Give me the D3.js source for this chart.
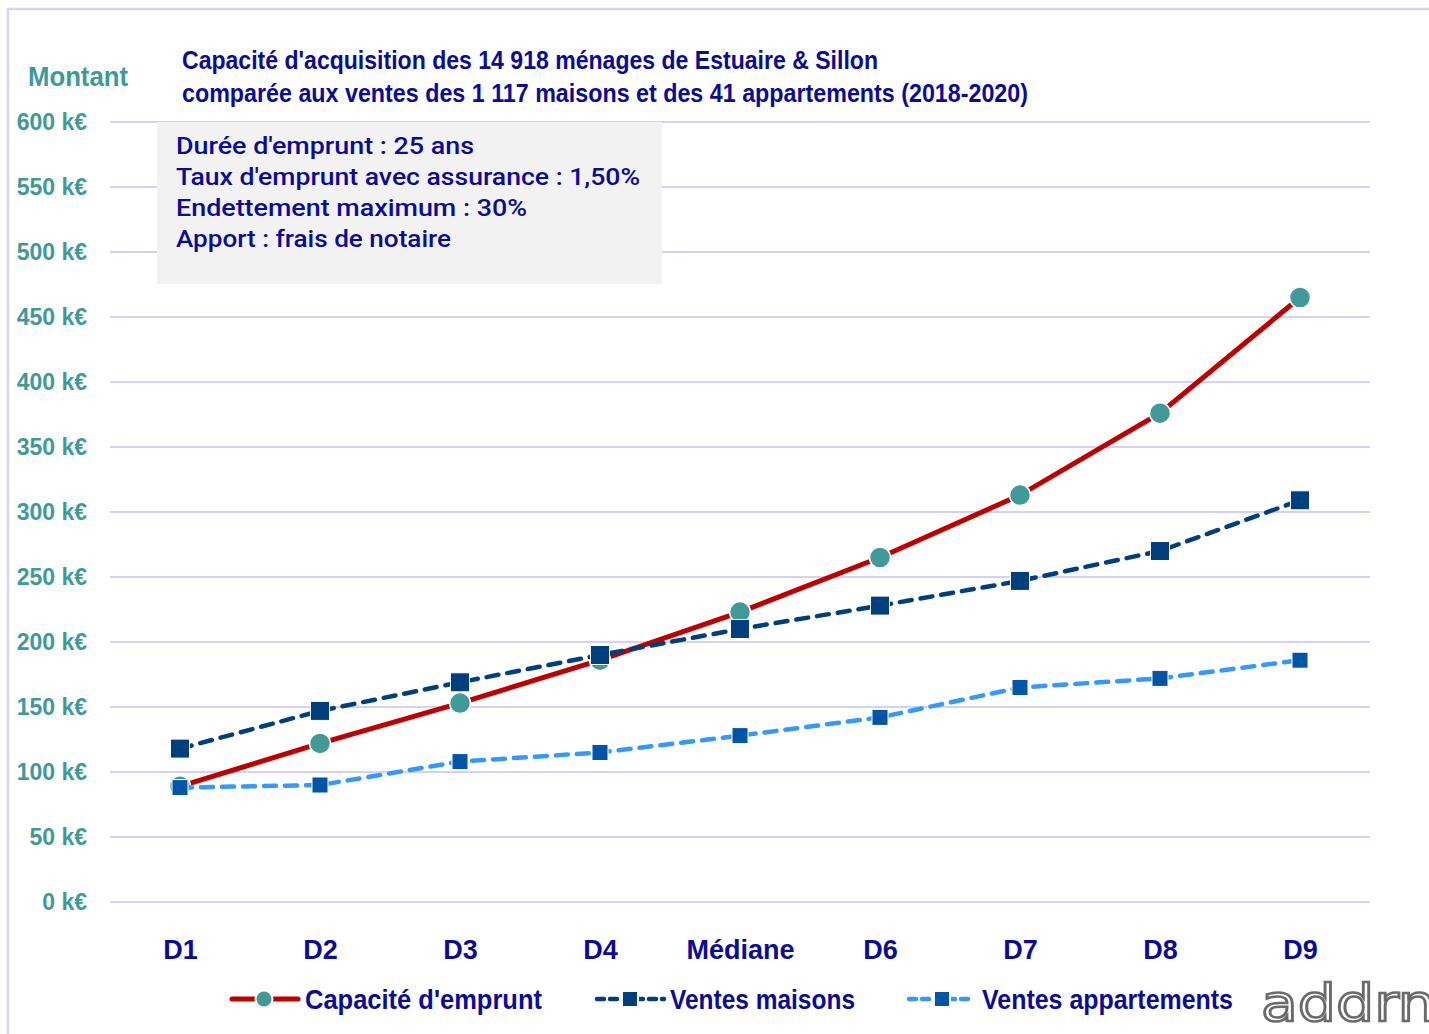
<!DOCTYPE html>
<html>
<head>
<meta charset="utf-8">
<title>Capacité d'acquisition</title>
<script src="https://d3js.org/d3.v7.min.js"></script>
<style>
  body { margin: 0; background: #fff; }
  svg { display: block; }
</style>
</head>
<body>
<div id="chart"></div>
<script>
// données (k€)
const categories = ["D1", "D2", "D3", "D4", "Médiane", "D6", "D7", "D8", "D9"];
const capacite = [89, 122, 153, 186, 223, 265, 313, 376, 465];
const maisons = [118, 147, 169, 190, 210, 228, 247, 270, 309];
const appartements = [88, 90, 108, 115, 128, 142, 165, 172, 186];
const yTicks = [0, 50, 100, 150, 200, 250, 300, 350, 400, 450, 500, 550, 600];
const titleLines = [
  "Capacité d'acquisition des 14 918 ménages de Estuaire & Sillon",
  "comparée aux ventes des 1 117 maisons et des 41 appartements (2018-2020)"
];
const infoLines = [
  "Durée d'emprunt : 25 ans",
  "Taux d'emprunt avec assurance : 1,50%",
  "Endettement maximum : 30%",
  "Apport : frais de notaire"
];
const seriesNames = ["Capacité d'emprunt", "Ventes maisons", "Ventes appartements"];

const W = 1429, H = 1034;
const narrow = "'Liberation Sans Narrow', 'Arial Narrow', 'Liberation Sans', sans-serif";
const darkBlue = "#0b0b99";
const teal = "#3e9a98";

const svg = d3.select("#chart").append("svg")
  .attr("width", W).attr("height", H);

// cadre extérieur
svg.append("path")
  .attr("d", `M8,${H} V9 H${W}`)
  .attr("fill", "none").attr("stroke", "#d4d4f8").attr("stroke-width", 2.5);

const x = d3.scalePoint().domain(categories).range([180, 1300]);
const y = d3.scaleLinear().domain([0, 600]).range([902, 122]);

// grille
svg.append("g").selectAll("line")
  .data(yTicks).enter().append("line")
  .attr("x1", 110).attr("x2", 1370)
  .attr("y1", d => y(d)).attr("y2", d => y(d))
  .attr("stroke", "#d2d2f8").attr("stroke-width", 2);

// axe Y
const yAxis = svg.append("g")
  .attr("transform", "translate(87,0)")
  .call(d3.axisLeft(y).tickValues(yTicks).tickSize(0).tickPadding(0).tickFormat(d => d + " k€"));
yAxis.select(".domain").remove();
yAxis.selectAll("text")
  .attr("fill", teal)
  .style("font-family", narrow).style("font-weight", "bold").style("font-size", "23px");

// axe X
const xAxis = svg.append("g")
  .attr("transform", "translate(0,940)")
  .call(d3.axisBottom(x).tickSize(0).tickPadding(0));
xAxis.select(".domain").remove();
xAxis.selectAll("text")
  .attr("fill", darkBlue).attr("dy", "0.71em")
  .style("font-family", narrow).style("font-weight", "bold").style("font-size", "27px");

// titre de l'axe
svg.append("text")
  .attr("x", 28).attr("y", 86)
  .attr("textLength", 100).attr("lengthAdjust", "spacingAndGlyphs")
  .attr("fill", teal)
  .style("font-family", narrow).style("font-weight", "bold").style("font-size", "28px")
  .text("Montant");

// titre
svg.append("g").selectAll("text")
  .data(titleLines).enter().append("text")
  .attr("x", 182).attr("y", (d, i) => 69 + i * 33)
  .attr("textLength", (d, i) => [696, 846][i]).attr("lengthAdjust", "spacingAndGlyphs")
  .attr("fill", darkBlue)
  .style("font-family", narrow).style("font-weight", "bold").style("font-size", "26px")
  .text(d => d);

// encadré des hypothèses
svg.append("rect")
  .attr("x", 157).attr("y", 122).attr("width", 505).attr("height", 162)
  .attr("fill", "#f2f2f2");
svg.append("g").selectAll("text")
  .data(infoLines).enter().append("text")
  .attr("x", 176).attr("y", (d, i) => 154 + i * 31)
  .attr("textLength", (d, i) => [298, 464, 351, 275][i]).attr("lengthAdjust", "spacingAndGlyphs")
  .attr("fill", darkBlue)
  .style("font-family", "Roboto, 'Liberation Sans', sans-serif").style("font-size", "24px")
  .style("font-weight", "500")
  .text(d => d);

// lignes
const line = d3.line().x((d, i) => x(categories[i])).y(d => y(d));

svg.append("path").datum(capacite)
  .attr("d", line).attr("fill", "none")
  .attr("stroke", "#c00000").attr("stroke-width", 5);
svg.selectAll(".cap").data(capacite).enter().append("circle")
  .attr("class", "cap")
  .attr("cx", (d, i) => x(categories[i])).attr("cy", d => y(d)).attr("r", 10.5)
  .attr("fill", "#409a98").attr("stroke", "#fff").attr("stroke-width", 1.5);

svg.append("path").datum(maisons)
  .attr("d", line).attr("fill", "none")
  .attr("stroke", "#003f7d").attr("stroke-width", 4.5)
  .attr("stroke-dasharray", "12,9").attr("stroke-linecap", "round");
svg.selectAll(".mai").data(maisons).enter().append("rect")
  .attr("class", "mai")
  .attr("x", (d, i) => x(categories[i]) - 9.5).attr("y", d => y(d) - 9.5)
  .attr("width", 19).attr("height", 19)
  .attr("fill", "#003f7d").attr("stroke", "#fff").attr("stroke-width", 1);

svg.append("path").datum(appartements)
  .attr("d", line).attr("fill", "none")
  .attr("stroke", "#3399ff").attr("stroke-width", 4.5)
  .attr("stroke-dasharray", "12,9").attr("stroke-linecap", "round");
svg.selectAll(".app").data(appartements).enter().append("rect")
  .attr("class", "app")
  .attr("x", (d, i) => x(categories[i]) - 8).attr("y", d => y(d) - 8)
  .attr("width", 16).attr("height", 16)
  .attr("fill", "#0055a5").attr("stroke", "#fff").attr("stroke-width", 1);

// légende
const legY = 999;
const leg = svg.append("g");
// capacité
leg.append("line").attr("x1", 232).attr("x2", 298).attr("y1", legY).attr("y2", legY)
  .attr("stroke", "#c00000").attr("stroke-width", 5).attr("stroke-linecap", "round");
leg.append("circle").attr("cx", 264).attr("cy", legY).attr("r", 8.5)
  .attr("fill", "#409a98").attr("stroke", "#fff").attr("stroke-width", 2);
// maisons
leg.append("line").attr("x1", 597).attr("x2", 664).attr("y1", legY).attr("y2", legY)
  .attr("stroke", "#003f7d").attr("stroke-width", 4.5)
  .attr("stroke-dasharray", "7,6").attr("stroke-linecap", "round");
leg.append("rect").attr("x", 622).attr("y", legY - 8).attr("width", 16).attr("height", 16)
  .attr("fill", "#003f7d").attr("stroke", "#fff").attr("stroke-width", 2);
// appartements
leg.append("line").attr("x1", 909).attr("x2", 973).attr("y1", legY).attr("y2", legY)
  .attr("stroke", "#3399ff").attr("stroke-width", 4.5)
  .attr("stroke-dasharray", "7,6").attr("stroke-linecap", "round");
leg.append("rect").attr("x", 934).attr("y", legY - 8).attr("width", 16).attr("height", 16)
  .attr("fill", "#0055a5").attr("stroke", "#fff").attr("stroke-width", 2);

leg.selectAll("text.lab")
  .data(seriesNames).enter().append("text")
  .attr("class", "lab")
  .attr("x", (d, i) => [305, 670, 982][i]).attr("y", legY + 10)
  .attr("textLength", (d, i) => [237, 185, 251][i]).attr("lengthAdjust", "spacingAndGlyphs")
  .attr("fill", darkBlue)
  .style("font-family", narrow).style("font-weight", "bold").style("font-size", "27px")
  .text(d => d);

// logo
svg.append("text")
  .attr("x", 1261).attr("y", 1021)
  .attr("textLength", 175).attr("lengthAdjust", "spacingAndGlyphs")
  .attr("fill", "#fff").attr("stroke", "#6a6a6a").attr("stroke-width", 2.5)
  .style("font-family", "'DejaVu Sans', sans-serif").style("font-size", "52px")
  .text("addrn");
</script>
</body>
</html>
